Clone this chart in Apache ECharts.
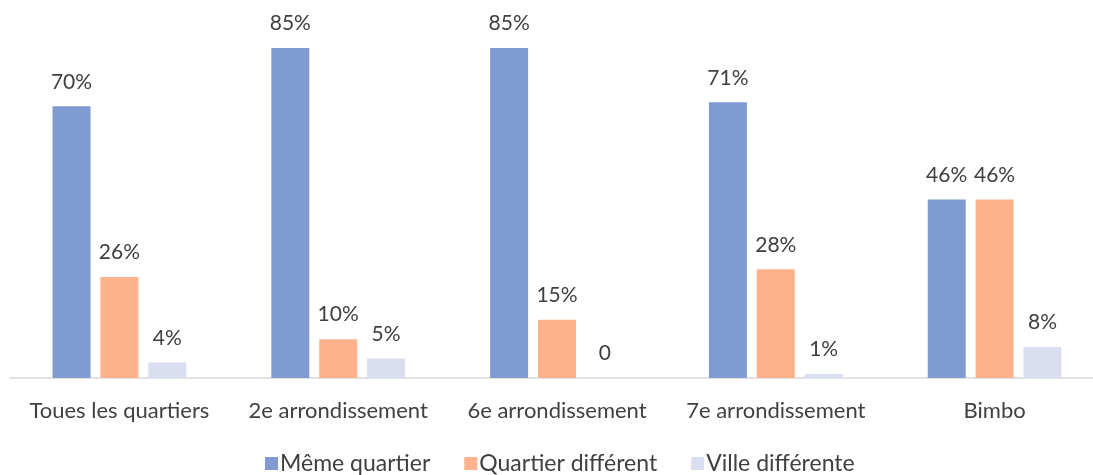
<!DOCTYPE html>
<html>
<head>
<meta charset="utf-8">
<script src="https://cdn.jsdelivr.net/npm/echarts@6/dist/echarts.min.js"></script>
<style>
  html, body { margin: 0; padding: 0; background: #ffffff; overflow: hidden; }
  #chart { width: 1104px; height: 475px; }
</style>
</head>
<body>
<div id="chart"></div>
<script>
const categories = ['Toues les quartiers', '2e arrondissement', '6e arrondissement', '7e arrondissement', 'Bimbo'];
const memeQuartier = [70, 85, 85, 71, 46];
const quartierDifferent = [26, 10, 15, 28, 46];
const villeDifferente = [4, 5, 0, 1, 8];
const seriesNames = ['Même quartier', 'Quartier différent', 'Ville différente'];
const colors = ['#7F9BD1', '#FFB28B', '#D9DFF1'];

const FONT = 'Lato, "Open Sans", sans-serif';
const TEXT = '#404040';

function pctLabel(p) {
  return p.value === 0 ? '0' : p.value + '%';
}

function barSeries(name, data, color) {
  return {
    name: name,
    type: 'bar',
    data: data,
    barWidth: 38,
    barGap: '26%',
    itemStyle: { color: color },
    label: {
      show: true,
      position: 'top',
      distance: 14,
      formatter: pctLabel,
      color: TEXT,
      fontFamily: FONT,
      fontSize: 21
    }
  };
}

const chart = echarts.init(document.getElementById('chart'), null, { renderer: 'canvas' });
chart.setOption({
  animation: false,
  backgroundColor: '#ffffff',
  color: colors,
  grid: { left: 10, right: 0, top: 28.6, height: 349.4, containLabel: false },
  legend: {
    left: 265,
    top: 452,
    padding: 0,
    itemWidth: 13,
    itemHeight: 13,
    itemGap: 34,
    icon: 'rect',
    textStyle: { color: TEXT, fontFamily: FONT, fontSize: 23, padding: [0, 0, 0, -3] },
    data: seriesNames
  },
  xAxis: {
    type: 'category',
    data: categories,
    axisLine: { show: true, lineStyle: { color: '#D9D9D9', width: 1.5 } },
    axisTick: { show: false },
    axisLabel: { color: TEXT, fontFamily: FONT, fontSize: 22, margin: 22, interval: 0 }
  },
  yAxis: {
    type: 'value',
    min: 0,
    max: 90,
    show: false,
    splitLine: { show: false }
  },
  series: [
    barSeries(seriesNames[0], memeQuartier, colors[0]),
    barSeries(seriesNames[1], quartierDifferent, colors[1]),
    barSeries(seriesNames[2], villeDifferente, colors[2])
  ]
});
</script>
</body>
</html>
